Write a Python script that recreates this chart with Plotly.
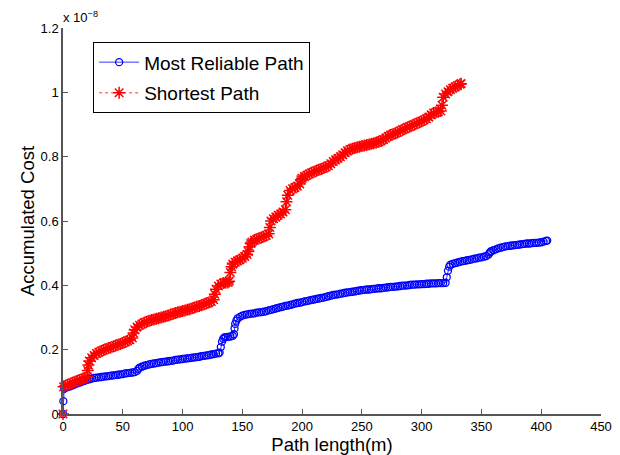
import plotly.graph_objects as go

# Values of the accumulated cost are in units of 1e-8 (axis multiplier shown as "x 10^-8")
blue_x = [0, 0.3, 1, 2, 4, 6, 8, 10, 12, 14, 16, 18, 20, 22, 24, 26, 28, 30, 32, 34, 36, 38, 40,
          42, 44, 46, 48, 50, 52, 54, 56, 58, 60, 62, 63, 64, 66, 68, 70, 72, 74, 76, 78, 80,
          82, 84, 86, 88, 90, 92, 94, 96, 98, 100, 102, 104, 106, 108, 110, 112, 114, 116, 118,
          120, 122, 124, 126, 128, 130, 131, 132, 133, 134, 135, 136, 138, 140, 142, 143, 143.5,
          144, 145, 146, 148, 150, 152, 154, 156, 158, 160, 162, 164, 166, 168, 170, 172, 174,
          176, 178, 180, 182, 184, 186, 188, 190, 192, 194, 196, 198, 200, 202, 204, 206, 208,
          210, 212, 214, 216, 218, 220, 222, 224, 226, 228, 230, 232, 234, 236, 238, 240, 242,
          244, 246, 248, 250, 252, 254, 256, 258, 260, 262, 264, 266, 268, 270, 272, 274, 276,
          278, 280, 282, 284, 286, 288, 290, 292, 294, 296, 298, 300, 302, 304, 306, 308, 310,
          312, 314, 316, 318, 320, 321, 322, 323, 324, 326, 328, 330, 332, 334, 336, 338, 340,
          342, 344, 346, 348, 350, 352, 354, 356, 357, 358, 360, 362, 364, 366, 368, 370, 372,
          374, 376, 378, 380, 382, 384, 386, 388, 390, 392, 394, 396, 398, 400, 402, 404, 405]
blue_y = [0, 0.04, 0.078, 0.082, 0.084, 0.086, 0.089, 0.092, 0.095, 0.098, 0.101, 0.103, 0.106,
          0.108, 0.110, 0.112, 0.113, 0.114, 0.115, 0.116, 0.117, 0.118, 0.119, 0.120, 0.121,
          0.122, 0.123, 0.124, 0.126, 0.127, 0.128, 0.129, 0.130, 0.134, 0.140, 0.144, 0.147,
          0.150, 0.152, 0.154, 0.156, 0.157, 0.158, 0.160, 0.161, 0.162, 0.163, 0.164, 0.165,
          0.166, 0.168, 0.169, 0.170, 0.171, 0.172, 0.173, 0.174, 0.175, 0.176, 0.177, 0.178,
          0.180, 0.181, 0.182, 0.183, 0.185, 0.186, 0.188, 0.189, 0.191, 0.208, 0.225, 0.234,
          0.238, 0.239, 0.240, 0.241, 0.243, 0.248, 0.266, 0.280, 0.290, 0.297, 0.302, 0.306,
          0.308, 0.310, 0.311, 0.312, 0.313, 0.315, 0.316, 0.317, 0.318, 0.320, 0.322, 0.324,
          0.326, 0.328, 0.330, 0.332, 0.334, 0.336, 0.337, 0.339, 0.341, 0.343, 0.345, 0.346,
          0.348, 0.350, 0.351, 0.353, 0.355, 0.356, 0.358, 0.359, 0.361, 0.362, 0.364, 0.366,
          0.368, 0.370, 0.371, 0.372, 0.374, 0.375, 0.377, 0.378, 0.379, 0.380, 0.381, 0.383,
          0.384, 0.385, 0.386, 0.387, 0.387, 0.388, 0.389, 0.390, 0.391, 0.391, 0.392, 0.393,
          0.394, 0.395, 0.395, 0.396, 0.397, 0.398, 0.399, 0.399, 0.400, 0.401, 0.402, 0.402,
          0.403, 0.403, 0.404, 0.404, 0.405, 0.405, 0.406, 0.406, 0.406, 0.407, 0.407, 0.407,
          0.408, 0.425, 0.445, 0.458, 0.464, 0.467, 0.469, 0.471, 0.473, 0.475, 0.476, 0.478,
          0.479, 0.481, 0.483, 0.484, 0.486, 0.487, 0.489, 0.491, 0.496, 0.502, 0.506, 0.509,
          0.512, 0.515, 0.517, 0.519, 0.521, 0.522, 0.523, 0.524, 0.525, 0.526, 0.527, 0.528,
          0.529, 0.530, 0.530, 0.531, 0.532, 0.532, 0.533, 0.534, 0.536, 0.538, 0.539]

red_x = [0, 0.5, 2, 4, 6, 8, 10, 12, 14, 16, 18, 20, 20.7, 21.3, 22, 24, 26, 28, 30, 32, 34, 36,
         38, 40, 42, 44, 46, 48, 50, 52, 54, 56, 58, 59, 60, 62, 64, 66, 68, 70, 72, 74, 76, 78,
         80, 82, 84, 86, 88, 90, 92, 94, 96, 98, 100, 102, 104, 106, 108, 110, 112, 114, 116,
         118, 120, 122, 124, 126, 127, 128, 130, 132, 134, 136, 138, 139, 140, 141, 142, 144,
         146, 148, 150, 152, 154, 155, 156, 157, 158, 160, 162, 164, 166, 168, 170, 172, 173,
         174, 176, 178, 180, 182, 184, 186, 187, 188, 190, 192, 194, 196, 198, 199, 200, 202,
         204, 206, 208, 210, 212, 214, 216, 218, 220, 222, 224, 226, 228, 230, 232, 234, 236,
         238, 240, 242, 244, 246, 248, 250, 252, 254, 256, 258, 260, 262, 264, 266, 268, 270,
         272, 274, 276, 278, 280, 282, 284, 286, 288, 290, 292, 294, 296, 298, 300, 302, 304,
         306, 308, 310, 312, 314, 316, 317, 318, 320, 322, 324, 326, 328, 330, 332, 333]
red_y = [0, 0.085, 0.088, 0.091, 0.094, 0.097, 0.100, 0.103, 0.106, 0.109, 0.112, 0.116, 0.135,
         0.152, 0.165, 0.175, 0.182, 0.188, 0.192, 0.196, 0.199, 0.202, 0.205, 0.207, 0.210,
         0.213, 0.215, 0.218, 0.221, 0.224, 0.228, 0.231, 0.236, 0.252, 0.262, 0.270, 0.276,
         0.280, 0.284, 0.287, 0.290, 0.292, 0.294, 0.296, 0.298, 0.300, 0.302, 0.304, 0.306,
         0.309, 0.311, 0.314, 0.316, 0.318, 0.320, 0.322, 0.324, 0.326, 0.329, 0.331, 0.334,
         0.336, 0.338, 0.341, 0.344, 0.347, 0.350, 0.355, 0.372, 0.388, 0.398, 0.404, 0.407,
         0.408, 0.409, 0.413, 0.440, 0.458, 0.466, 0.472, 0.476, 0.480, 0.484, 0.490, 0.496,
         0.505, 0.520, 0.530, 0.535, 0.540, 0.543, 0.546, 0.549, 0.552, 0.555, 0.560, 0.580,
         0.600, 0.607, 0.612, 0.618, 0.622, 0.628, 0.635, 0.660, 0.680, 0.695, 0.700, 0.704,
         0.708, 0.715, 0.728, 0.733, 0.738, 0.742, 0.746, 0.750, 0.753, 0.756, 0.759, 0.762,
         0.765, 0.768, 0.772, 0.778, 0.785, 0.790, 0.795, 0.800, 0.806, 0.812, 0.818, 0.822,
         0.825, 0.827, 0.829, 0.831, 0.833, 0.835, 0.836, 0.838, 0.840, 0.842, 0.844, 0.846,
         0.849, 0.853, 0.858, 0.863, 0.867, 0.870, 0.873, 0.876, 0.880, 0.884, 0.887, 0.891,
         0.894, 0.897, 0.900, 0.904, 0.907, 0.910, 0.914, 0.918, 0.923, 0.930, 0.936, 0.938,
         0.940, 0.942, 0.960, 0.985, 0.995, 1.002, 1.008, 1.013, 1.017, 1.021, 1.025, 1.027]

x_ticks = [0, 50, 100, 150, 200, 250, 300, 350, 400, 450]
y_ticks = [0, 0.2, 0.4, 0.6, 0.8, 1, 1.2]
y_tick_text = ["0", "0.2", "0.4", "0.6", "0.8", "1", "1.2"]

FONT = "Liberation Sans, Arial, Helvetica, sans-serif"
AXC = "#555555"

fig = go.Figure()
fig.add_trace(go.Scatter(
    x=blue_x, y=blue_y, mode="lines+markers", name="Most Reliable Path",
    line=dict(color="#0000ff", width=0.8),
    marker=dict(symbol="circle-open", size=7, color="#0000ff", line=dict(width=1.3, color="#0000ff")),
    cliponaxis=False, legendgroup="a"))
fig.add_trace(go.Scatter(
    x=red_x, y=red_y, mode="lines+markers", name="Shortest Path",
    line=dict(color="#ff0000", width=0.8, dash="dot"),
    marker=dict(symbol="asterisk-open", size=10, color="#ff0000", line=dict(width=1.5, color="#ff0000")),
    cliponaxis=False, legendgroup="b"))

fig.update_layout(
    width=620, height=455,
    margin=dict(l=63, r=19, t=28, b=41),
    paper_bgcolor="white", plot_bgcolor="white",
    font=dict(family=FONT, size=13, color="black"),
    showlegend=True,
    legend=dict(x=0.056, y=0.963, xanchor="left", yanchor="top",
                bgcolor="white", bordercolor="black", borderwidth=1, itemwidth=40,
                font=dict(size=19, family=FONT), tracegroupgap=3),
    xaxis=dict(range=[0, 450], tickvals=x_ticks, showgrid=False, zeroline=False,
               showline=True, linecolor=AXC, linewidth=1.5, automargin=False,
               ticks="inside", ticklen=5, tickcolor=AXC, tickwidth=1,
               tickfont=dict(size=13, family=FONT),
               title=dict(text="Path length(m)", font=dict(size=18.5, family=FONT), standoff=0)),
    yaxis=dict(range=[0, 1.2], tickvals=y_ticks, ticktext=y_tick_text, showgrid=False,
               zeroline=False, showline=True, linecolor=AXC, linewidth=1.5, automargin=False,
               ticks="inside", ticklen=5, tickcolor=AXC, tickwidth=1,
               tickfont=dict(size=13, family=FONT),
               title=dict(text="Accumulated Cost", font=dict(size=18.5, family=FONT), standoff=1)),
    annotations=[dict(text="x 10<sup>\u22128</sup>", xref="paper", yref="paper", x=0, y=1,
                      xanchor="left", yanchor="bottom", showarrow=False,
                      font=dict(size=13, family=FONT), xshift=-2, yshift=1)],
)

fig.write_html("out.html", config={"displayModeBar": False},
               post_script="document.body.style.margin='0';")
